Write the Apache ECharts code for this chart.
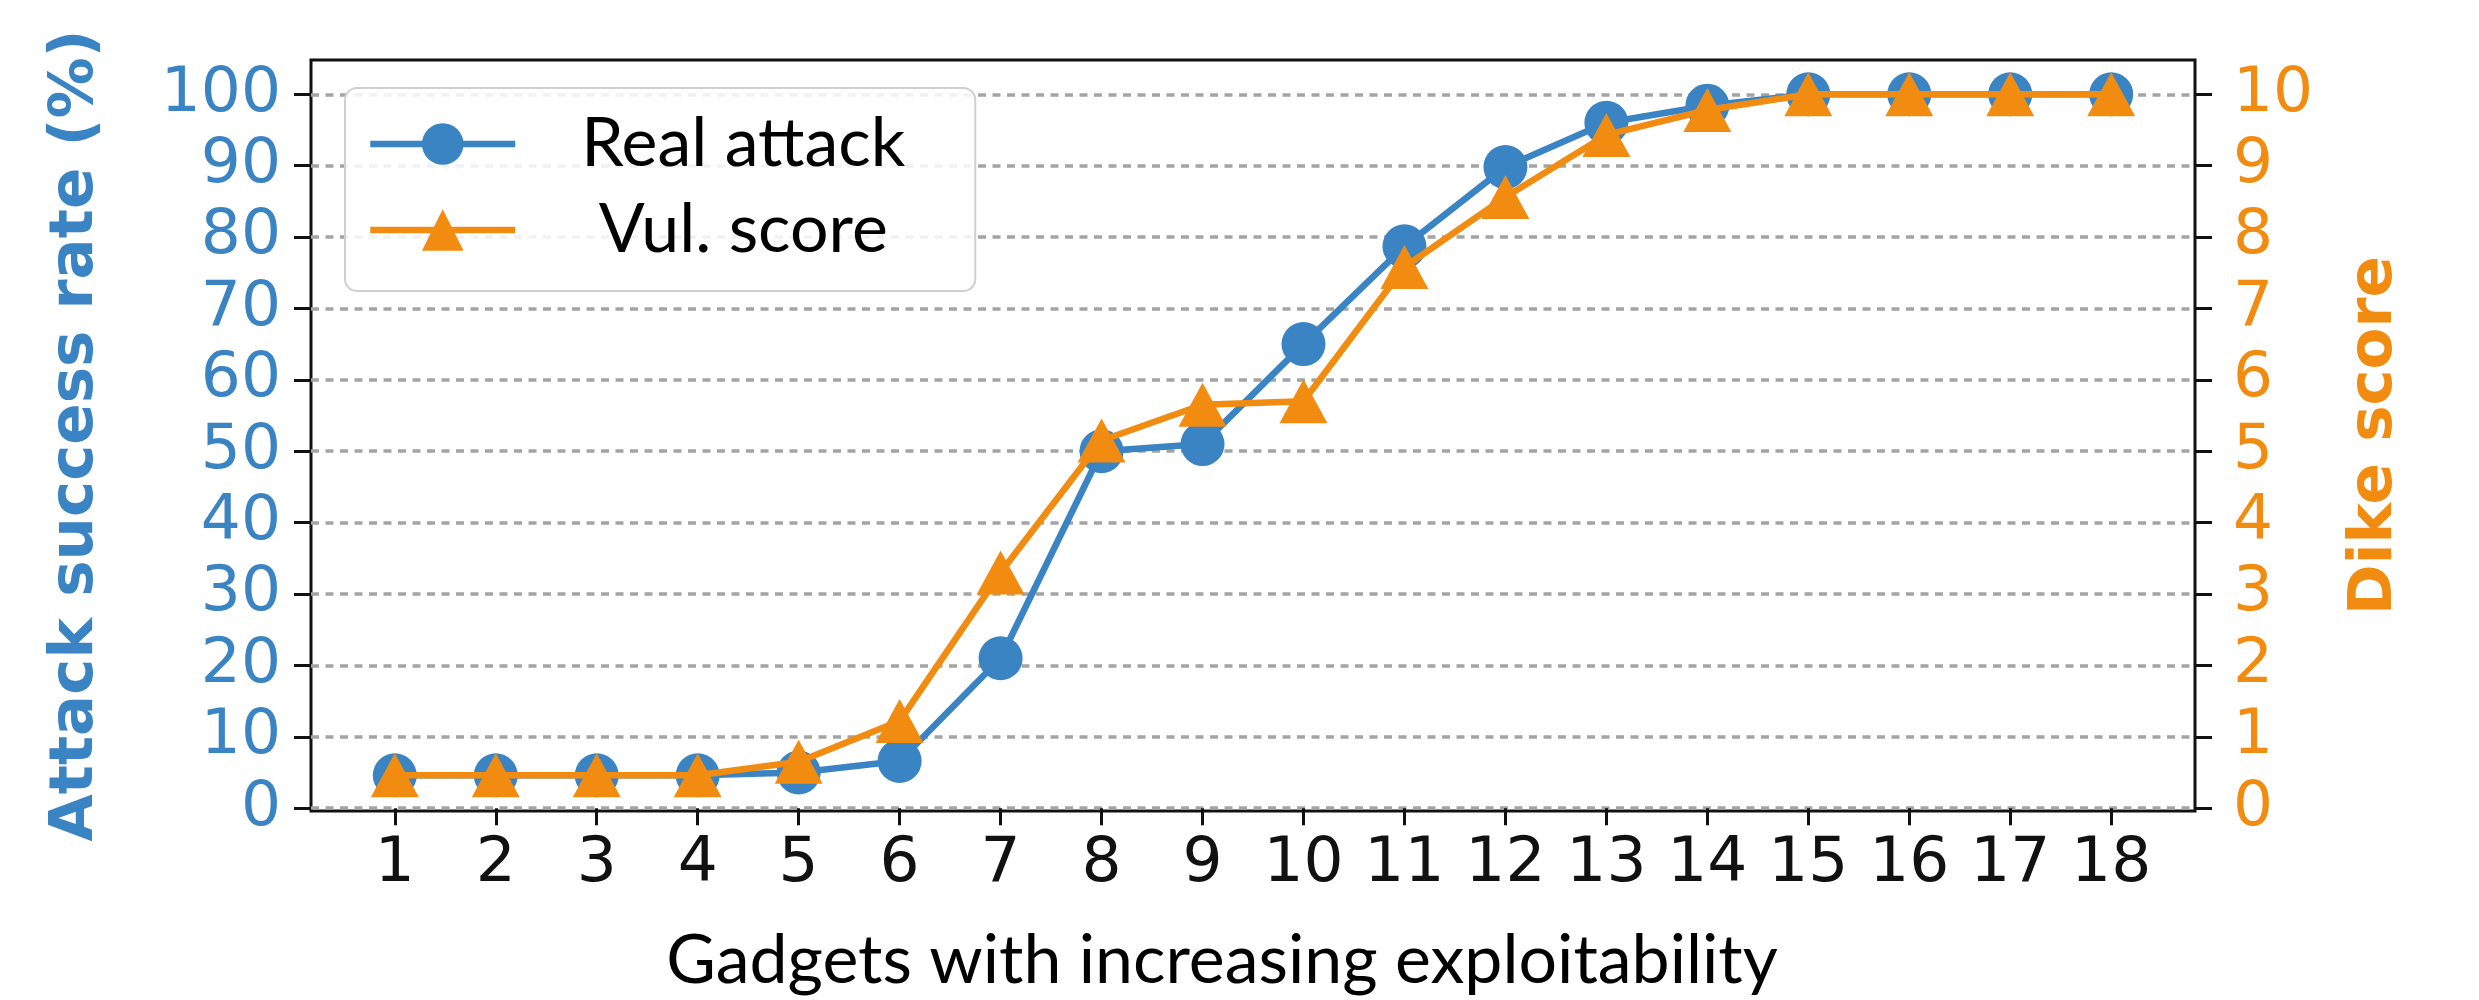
<!DOCTYPE html>
<html>
<head>
<meta charset="utf-8">
<title>Attack success rate vs. Dike score</title>
<script src="https://cdn.jsdelivr.net/npm/echarts@6/dist/echarts.min.js"></script>
<style>
  html, body { margin: 0; padding: 0; background: #ffffff; }
  #chart { width: 2479px; height: 1000px; }
</style>
</head>
<body>
<div id="chart"></div>
<script>
// Gadgets ordered by increasing exploitability
const gadgets = [1, 2, 3, 4, 5, 6, 7, 8, 9, 10, 11, 12, 13, 14, 15, 16, 17, 18];
// Measured attack success rate (%), left axis
const realAttack = [4.6, 4.6, 4.6, 4.6, 5.0, 6.6, 21, 50, 51, 65, 78.7, 89.8, 96, 98.4, 100, 100, 100, 100];
// Dike vulnerability score, right axis
const vulScore = [0.46, 0.46, 0.46, 0.46, 0.65, 1.22, 3.3, 5.15, 5.65, 5.7, 7.58, 8.56, 9.43, 9.78, 10, 10, 10, 10];
// Tick labels
const rateTicks = [0, 10, 20, 30, 40, 50, 60, 70, 80, 90, 100];
const scoreTicks = [0, 1, 2, 3, 4, 5, 6, 7, 8, 9, 10];

const BLUE = '#3b84c4';
const ORANGE = '#f28c10';
const GRID = '#a4a4a4';
const TICK_FONT = 'DejaVu Sans';
const TEXT_FONT = 'Lato';

const chart = echarts.init(document.getElementById('chart'), null, { renderer: 'canvas' });

const tickStyle = { show: true, inside: false, length: 17, lineStyle: { color: '#111', width: 3 } };

chart.setOption({
  animation: false,
  backgroundColor: '#ffffff',
  grid: {
    left: 311, right: 284, top: 60, bottom: 188,
    show: true, borderColor: '#111', borderWidth: 3, backgroundColor: 'transparent'
  },
  legend: {
    orient: 'vertical',
    left: 345, top: 88,
    itemWidth: 145, itemHeight: 52, itemGap: 18,
    padding: [22, 9, 27, 22],
    backgroundColor: 'rgba(255,255,255,0.85)',
    borderColor: '#d0d0d0', borderWidth: 2, borderRadius: 12,
    lineStyle: { width: 6.5 },
    formatter: name => '{t|' + name + '}',
    textStyle: {
      rich: {
        t: { fontFamily: TEXT_FONT, fontSize: 68, width: 446, align: 'center', lineHeight: 52, color: '#000' }
      }
    },
    data: ['Real attack', 'Vul. score']
  },
  xAxis: {
    type: 'value',
    min: 0.17, max: 18.83,
    axisLine: { show: false },
    axisTick: Object.assign({ customValues: gadgets }, tickStyle),
    axisLabel: {
      customValues: gadgets,
      margin: 22,
      fontFamily: TICK_FONT, fontSize: 63, color: '#111'
    },
    splitLine: { show: false },
    name: 'Gadgets with increasing exploitability',
    nameLocation: 'middle',
    nameGap: 116,
    nameTextStyle: { fontFamily: TEXT_FONT, fontSize: 68, color: '#000', padding: [0, 62, 0, 0] }
  },
  yAxis: [
    {
      type: 'value',
      position: 'left',
      min: -0.4, max: 104.8,
      axisLine: { show: false },
      axisTick: Object.assign({ customValues: rateTicks }, tickStyle),
      axisLabel: {
        customValues: rateTicks,
        margin: 30,
        fontFamily: TICK_FONT, fontSize: 63, color: BLUE
      },
      splitLine: { show: true, lineStyle: { color: GRID, width: 3.5, type: [8, 6.5] } },
      name: 'Attack success rate (%)',
      nameLocation: 'middle',
      nameRotate: 90,
      nameGap: 204,
      nameTextStyle: { fontFamily: TICK_FONT, fontWeight: 'bold', fontSize: 61, color: BLUE }
    },
    {
      type: 'value',
      position: 'right',
      min: -0.04, max: 10.48,
      axisLine: { show: false },
      axisTick: Object.assign({ customValues: scoreTicks }, tickStyle),
      axisLabel: {
        customValues: scoreTicks,
        margin: 38,
        fontFamily: TICK_FONT, fontSize: 63, color: ORANGE
      },
      splitLine: { show: false },
      name: 'Dike score',
      nameLocation: 'middle',
      nameRotate: 90,
      nameGap: 150,
      nameTextStyle: { fontFamily: TICK_FONT, fontWeight: 'bold', fontSize: 61, color: ORANGE }
    }
  ],
  series: [
    {
      name: 'Real attack',
      type: 'line',
      yAxisIndex: 0,
      data: gadgets.map((g, i) => [g, realAttack[i]]),
      symbol: 'circle',
      symbolSize: 44,
      itemStyle: { color: BLUE },
      lineStyle: { color: BLUE, width: 6.5 },
      z: 3
    },
    {
      name: 'Vul. score',
      type: 'line',
      yAxisIndex: 1,
      data: gadgets.map((g, i) => [g, vulScore[i]]),
      symbol: 'triangle',
      symbolSize: [48, 44],
      itemStyle: { color: ORANGE },
      lineStyle: { color: ORANGE, width: 6.5 },
      z: 4
    }
  ]
});
</script>
</body>
</html>
